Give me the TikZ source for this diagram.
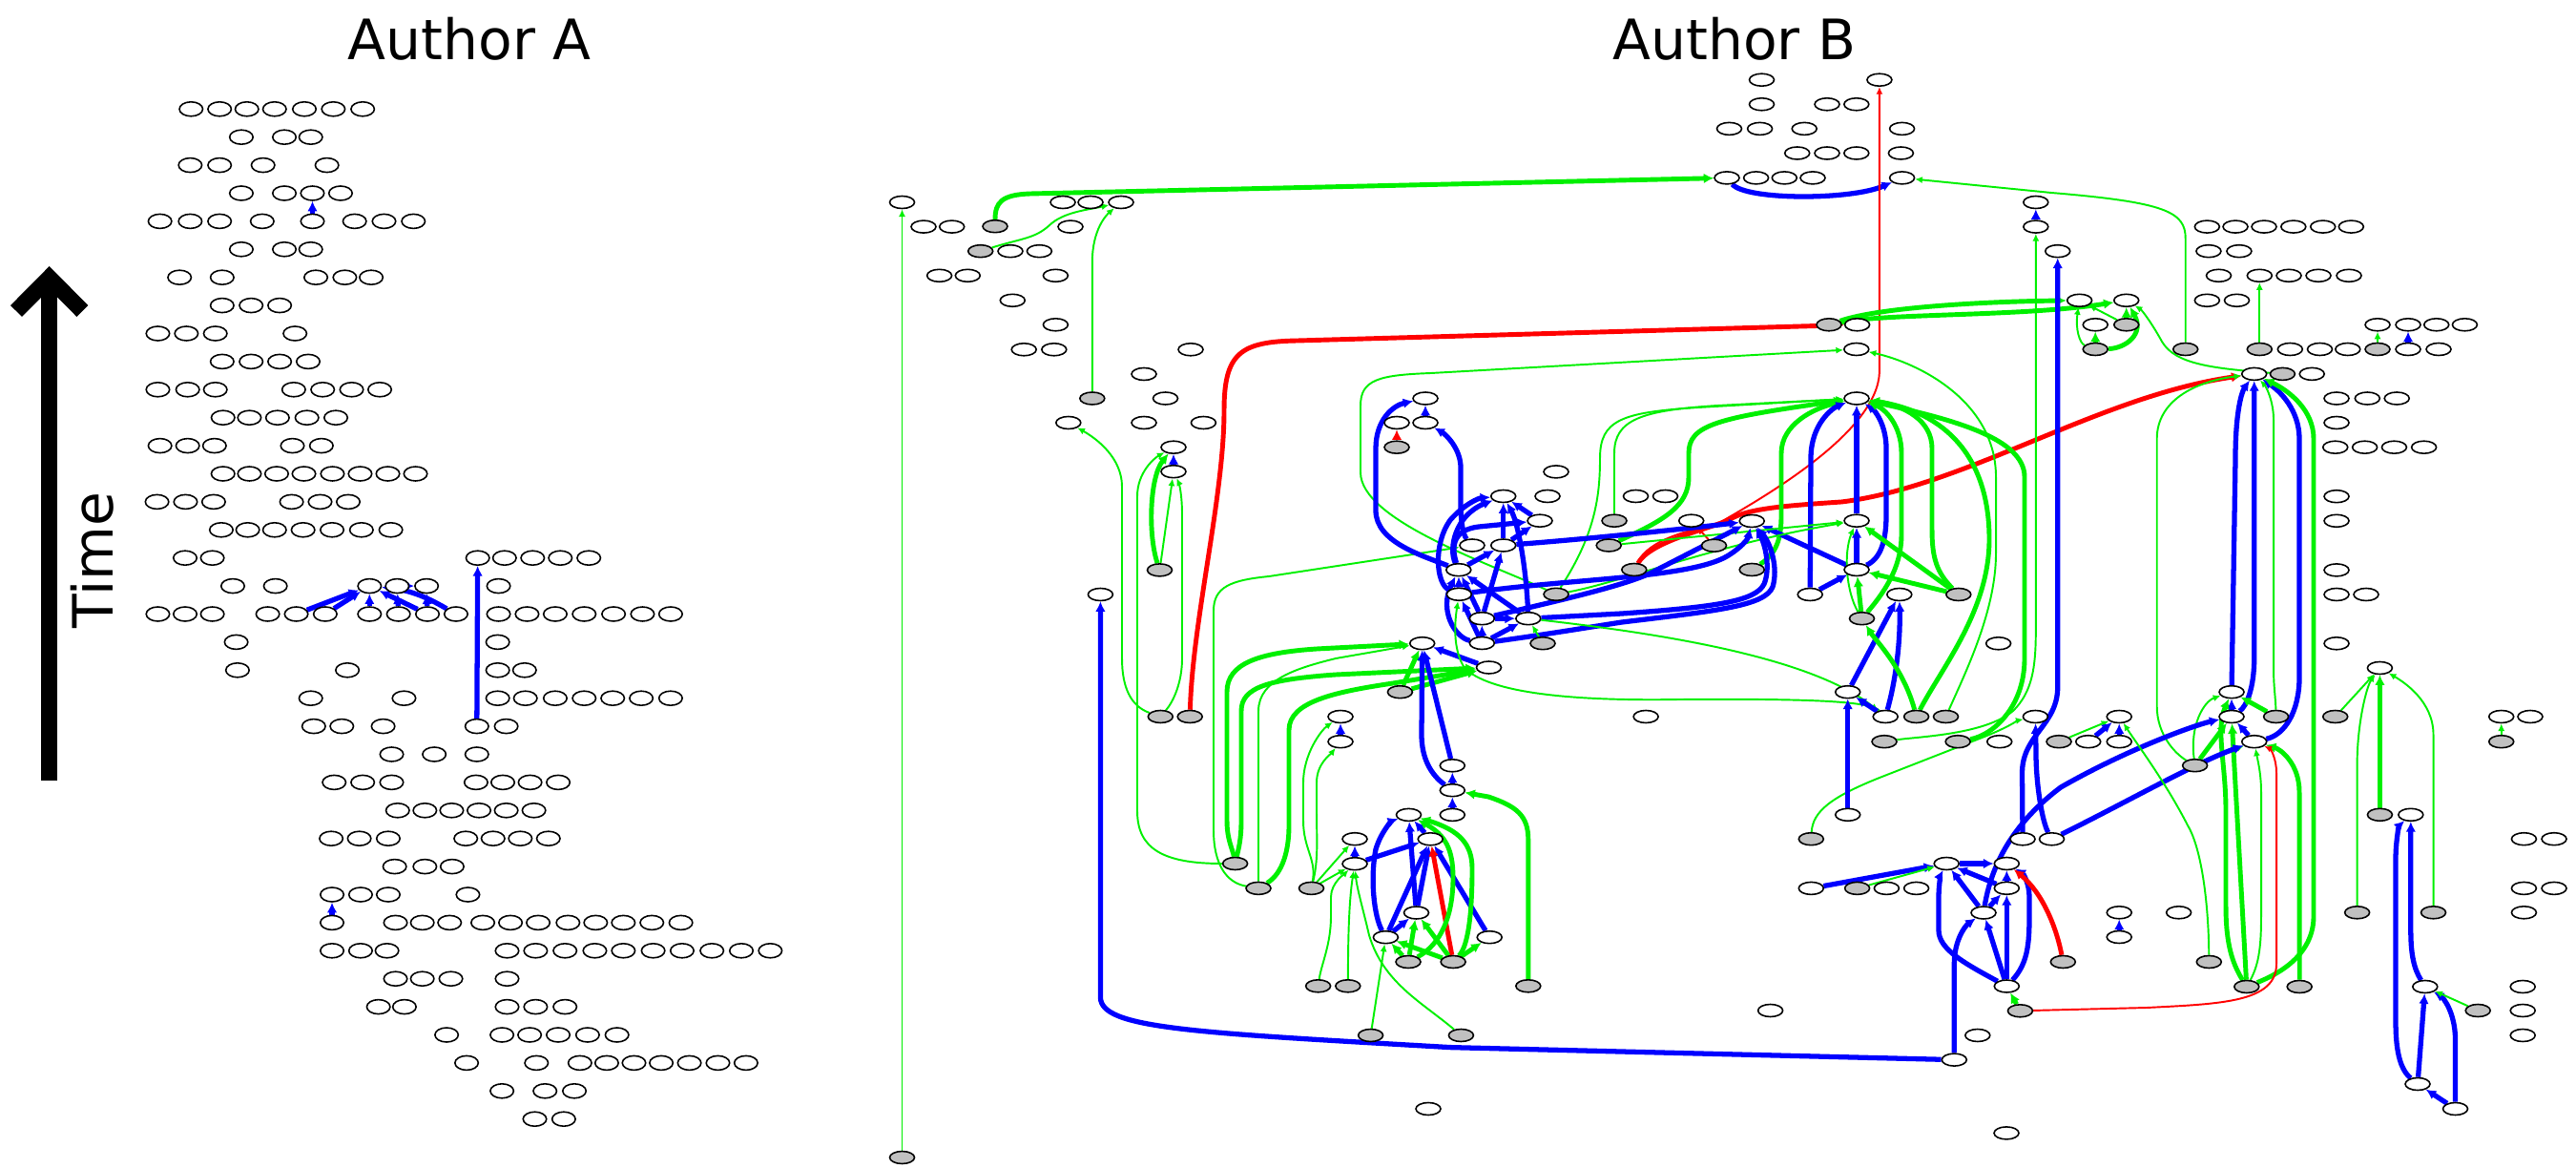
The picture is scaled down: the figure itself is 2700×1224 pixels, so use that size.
\documentclass[tikz,border=0pt]{standalone}
\usepackage{fontspec}
\setmainfont{DejaVu Sans}
\usetikzlibrary{shapes.geometric,arrows.meta}
\definecolor{ngreen}{RGB}{0,240,0}
\definecolor{nblue}{RGB}{0,0,255}
\definecolor{nred}{RGB}{255,0,0}
\definecolor{ngray}{RGB}{192,192,192}
\pgfdeclarelayer{paper}
\pgfdeclarelayer{edges}
\pgfsetlayers{paper,edges,main}
\newcommand\Arowmk[2]{\foreach \cc in {#2}{\node[aw] (a#1-\cc) at ({140+0.4464*\cc},{114.3+29.4*#1}) {};}}
\newcommand\BW[2]{\node[bw] (#1) at (#2) {};}
\newcommand\BG[2]{\node[bg] (#1) at (#2) {};}
\begin{document}
\begin{tikzpicture}[x=0.1mm,y=-0.1mm,
 aw/.style={ellipse,draw=black,line width=0.45pt,fill=white,minimum width=2.45mm,minimum height=1.5mm,inner sep=0pt},
 bw/.style={ellipse,draw=black,line width=0.45pt,fill=white,minimum width=2.6mm,minimum height=1.3mm,inner sep=0pt},
 bg/.style={bw,fill=ngray},
 gt/.style={draw=ngreen,line width=0.55pt,-{Latex[length=2.2pt,width=2pt]}},
 gT/.style={draw=ngreen,line width=1.4pt,-{Latex[length=3pt,width=3pt]}},
 bT/.style={draw=nblue,line width=1.5pt,-{Latex[length=3pt,width=3pt]}},
 ab/.style={draw=nblue,line width=1.5pt,-{Latex[length=3pt,width=3pt]}},
 rt/.style={draw=nred,line width=0.55pt,-{Latex[length=2.2pt,width=2pt]}},
 rT/.style={draw=nred,line width=1.4pt,-{Latex[length=3pt,width=3pt]}},
 ttl/.style={font=\fontsize{16.6}{20}\selectfont,inner sep=0pt}]
\begin{pgfonlayer}{paper}
\fill[white] (0,0) rectangle (2700,1224);
\end{pgfonlayer}
\path[use as bounding box] (0,0) rectangle (2700,1224);

% titles and time arrow
\node[ttl] (tA) at (492,41) {Author A};
\node[ttl] (tB) at (1818,41) {Author B};
\node[ttl,rotate=90] (tT) at (97,587) {Time};
\draw[line width=4.8pt] (51.7,818) -- (51.7,292);
\draw[line width=4.8pt,line join=miter] (17,326) -- (51.7,291) -- (86.4,326);

% ---------------- Author A ----------------
\Arowmk{0}{135,202,266,331,401,469,538}
\Arowmk{1}{253,354,416}
\Arowmk{2}{133,202,304,454}
\Arowmk{3}{253,354,420,486}
\Arowmk{4}{62,133,202,302,420,519,588,657}
\Arowmk{5}{253,354,416}
\Arowmk{6}{108,208,428,496,558}
\Arowmk{7}{208,276,343}
\Arowmk{8}{57,124,192,379}
\Arowmk{9}{208,276,343,410}
\Arowmk{10}{57,127,192,376,444,512,578}
\Arowmk{11}{210,272,338,407,475}
\Arowmk{12}{62,127,190,373,441}
\Arowmk{13}{210,272,336,400,467,532,597,662}
\Arowmk{14}{55,122,188,371,438,504}
\Arowmk{15}{206,268,331,398,466,535,604}
\Arowmk{16}{121,185,808,871,937,1002,1069}
\Arowmk{17}{233,333,554,619,688,857}
\Arowmk{18}{57,121,185,315,382,450,554,622,690,757,857,924,990,1058,1127,1195,1261}
\Arowmk{19}{241,855}
\Arowmk{20}{244,502,855,918}
\Arowmk{21}{416,635,855,920,990,1058,1125,1192,1261}
\Arowmk{22}{423,489,586,806,875}
\Arowmk{23}{606,706,806}
\Arowmk{24}{471,538,606,804,867,931,997}
\Arowmk{25}{620,684,747,811,875,940}
\Arowmk{26}{464,530,598,780,844,908,974}
\Arowmk{27}{613,684,748}
\Arowmk{28}{466,533,598,785}
\Arowmk{29}{466,615,678,742,820,885,950,1020,1085,1150,1217,1285}
\Arowmk{30}{466,533,595,877,944,1013,1083,1150,1220,1288,1358,1427,1495}
\Arowmk{31}{615,678,745,877}
\Arowmk{32}{575,636,877,944,1013}
\Arowmk{33}{735,865,930,997,1066,1135}
\Arowmk{34}{782,946,1048,1111,1175,1239,1305,1372,1438}
\Arowmk{35}{865,966,1035}
\Arowmk{36}{942,1010}

% ---------------- Author B nodes ----------------
\BW{n1}{945.5,212} \BG{n2}{1043,237.2} \BW{n3}{1114,212} \BW{n4}{1143,212} \BW{n5}{1175,212}
\BW{n6}{968,237.6} \BW{n7}{997.7,237.6} \BW{n8}{1122,237.6} \BG{n9}{1027.7,263.2} \BW{n10}{1059,263.2}
\BW{n11}{1089.4,263.2} \BW{n12}{984.6,288.8} \BW{n13}{1014.3,288.8} \BW{n14}{1106.4,288.8} \BW{n15}{1061.3,314.8}
\BW{n16}{1106.4,340.3} \BW{n17}{1073.2,366.3} \BW{n18}{1104.8,366.3} \BW{n19}{1248,366.3} \BW{n20}{1199,392}
\BG{n21}{1144.8,417.5} \BW{n22}{1221.5,417.5} \BW{n23}{1119.8,443} \BW{n24}{1199,443} \BW{n25}{1261.4,443}
\BW{n26}{1230,468.7} \BW{n27}{1230,494.2} \BG{n28}{1215.5,597.4} \BW{n29}{1153.4,623} \BW{n30}{1494,417.5}
\BW{n31}{1464,443} \BW{n32}{1494,443} \BG{n33}{1464,468.7} \BG{n34}{945.5,1213}

\BW{c1}{1846.5,83.7} \BW{c2}{1969.9,83.7} \BW{c3}{1846.5,109.3} \BW{c4}{1915,109.3} \BW{c5}{1945.8,109.3}
\BW{c6}{1812.5,134.9} \BW{c7}{1844.6,134.9} \BW{c8}{1891.2,134.9} \BW{c9}{1993.6,134.9} \BW{c10}{1883.7,160.5}
\BW{c11}{1915,160.5} \BW{c12}{1945.8,160.5} \BW{c13}{1992.4,160.5} \BW{c14}{1810,186.4} \BW{c15}{1840.6,186.4}
\BW{c16}{1870.3,186.4} \BW{c17}{1900,186.4} \BW{c18}{1993.6,186.4} \BG{c19}{1917,340.3} \BW{c20}{1946.6,340.3}
\BW{c21}{1945.8,366} \BW{c22}{1946,417.5} \BW{c23}{1631,494.4} \BW{c24}{1575.7,520} \BW{c25}{1622,520}
\BW{c26}{1714.5,520} \BW{c27}{1745.5,520} \BW{c28}{1614,545.7} \BG{c29}{1692,545.7} \BW{c30}{1772.7,545.7}
\BW{c31}{1836.2,546} \BW{c32}{1946,545.7} \BW{c33}{1543,571.5} \BW{c34}{1575.7,571.5} \BG{c35}{1686.2,571.5}
\BG{c36}{1796.5,571.7} \BW{c37}{1528.8,597.2} \BG{c38}{1712.8,597} \BG{c39}{1836.2,597} \BW{c40}{1946,597}
\BW{c41}{1529.3,622.8} \BG{c42}{1631,622.8} \BW{c43}{1897.2,623} \BW{c44}{1990.8,623} \BG{c45}{2052.8,623}
\BW{c46}{1553.3,648.2} \BW{c47}{1601.8,648.2} \BG{c48}{1951.5,648.2}

\BW{d1}{2133.8,212} \BW{d2}{2133.8,237.6} \BW{d3}{2156.7,263.2} \BW{d4}{2179.6,314.8} \BW{d5}{2228.7,314.8}
\BW{d6}{2196.2,340.3} \BG{d7}{2228.7,340.3} \BG{d8}{2196.2,366} \BG{d9}{2290.7,366}
\BW{d10}{2313.3,237.6} \BW{d11}{2343,237.6} \BW{d12}{2373,237.6} \BW{d13}{2403.8,237.6} \BW{d14}{2434.7,237.6} \BW{d15}{2464.3,237.6}
\BW{d16}{2314.9,263.2} \BW{d17}{2346.9,263.2}
\BW{d18}{2325.5,288.8} \BW{d19}{2368.3,288.8} \BW{d20}{2399,288.8} \BW{d21}{2430,288.8} \BW{d22}{2462,288.8}
\BW{d23}{2313.3,314.8} \BW{d24}{2344.5,314.8}
\BG{d25}{2368.3,366} \BW{d26}{2400.3,366} \BW{d27}{2431.5,366} \BW{d28}{2460.8,366} \BG{d29}{2492,366} \BW{d30}{2524,366} \BW{d31}{2556,366}
\BW{d32}{2492,340.3} \BW{d33}{2524,340.3} \BW{d34}{2553.7,340.3} \BW{d35}{2583.4,340.3}
\BW{d36}{2362.7,391.9} \BG{d37}{2392.4,391.9} \BW{d38}{2423.2,391.9}
\BW{d39}{2449,417.5} \BW{d40}{2481.3,417.5} \BW{d41}{2512.2,417.5} \BW{d42}{2449,443}
\BW{d43}{2447.7,468.7} \BW{d44}{2478.6,468.7} \BW{d45}{2509.4,468.7} \BW{d46}{2540.6,468.7}
\BW{d47}{2449,520.2} \BW{d48}{2449,545.8} \BW{d49}{2449,597.4} \BW{d50}{2449,623} \BW{d51}{2480,623}

\BW{e1}{2094.6,674.3} \BW{e2}{2449,674.3} \BW{e3}{2494.4,700} \BW{e4}{2339,725.2} \BW{e5}{2133.4,751}
\BW{e6}{2221.2,751} \BW{e7}{2339,751} \BG{e8}{2385.6,751} \BG{e9}{2447.7,751} \BW{e10}{2621.7,751} \BW{e11}{2652,751}
\BW{e12}{2095.7,777.2} \BG{e13}{2158,777.2} \BW{e14}{2188.7,777.2} \BW{e15}{2221.2,777.2} \BW{e16}{2362.7,777.2} \BG{e17}{2621.7,777.2}
\BG{e18}{2300.6,802.2} \BG{e19}{2494.4,853.8} \BW{e20}{2526.8,853.8} \BW{e21}{2120,879.3} \BW{e22}{2150.5,879.3}
\BW{e23}{2645.4,879.2} \BW{e24}{2677,879.2} \BW{e25}{2103.3,905} \BW{e26}{2645.4,930.9} \BW{e27}{2677,930.9}
\BW{e28}{2103.3,930.8} \BW{e29}{2079,956.5} \BW{e30}{2221.2,956.3} \BW{e31}{2283.6,956.3} \BG{e32}{2470.6,956.3}
\BG{e33}{2550.5,956.3} \BW{e34}{2645.4,956.3} \BW{e35}{2221.2,982} \BG{e36}{2162.3,1008} \BG{e37}{2315.3,1008}
\BW{e38}{2103.3,1033.5} \BG{e39}{2354.8,1034} \BG{e40}{2410.2,1034} \BW{e41}{2541.8,1034} \BW{e42}{2644.2,1034}
\BG{e43}{2117.4,1059.3} \BG{e44}{2597.2,1059} \BW{e45}{2644.2,1059} \BW{e46}{2072.8,1085} \BW{e47}{2644.2,1085}
\BW{e48}{2048.3,1110.6} \BW{e49}{2534,1136} \BW{e50}{2573.5,1162} \BW{e51}{2103,1187.4}

\BW{f1}{1490.7,674.2} \BW{f2}{1553.3,674} \BG{f3}{1617,674.2} \BW{f4}{1560.5,699.5} \BW{f5}{1936.7,725.2}
\BW{f6}{1725.1,751} \BW{f7}{1976.2,751} \BG{f8}{2008.6,751} \BG{f9}{2039.5,751} \BG{f10}{1975,777.2}
\BG{f11}{2052.1,777.2} \BW{f12}{1522.3,802.3} \BW{f13}{1522.3,828.2} \BW{f14}{1522.3,853.9} \BW{f15}{1476.5,853.9}
\BW{f16}{1936.7,853.8} \BW{f17}{1499.2,879.3} \BG{f18}{1898.3,879.2} \BW{f19}{2040.2,905} \BW{f20}{1898.3,930.9}
\BG{f21}{1946.6,930.9} \BW{f22}{1977.4,930.9} \BW{f23}{2008.6,930.9} \BW{f24}{1484.5,956.5} \BW{f25}{1561.2,982.2}
\BW{f26}{1452.4,982.2} \BG{f27}{1476,1008} \BG{f28}{1523.1,1008} \BG{f29}{1601.8,1033.3} \BW{f30}{1855.6,1059}
\BG{f31}{1531.4,1085} \BW{f32}{1497,1162} \BG{f33}{1436.6,1085}

\BG{g1}{1467.4,725.2} \BG{g2}{1216.3,751} \BG{g3}{1247.2,751} \BW{g4}{1405,751} \BW{g5}{1405,777.2}
\BW{g6}{1420,879.2} \BG{g7}{1294.6,905} \BW{g8}{1420,905.2} \BG{g9}{1319,930.9} \BG{g10}{1374.5,930.9}
\BG{g11}{1381.6,1033.3} \BG{g12}{1412.8,1033.3}

\begin{pgfonlayer}{edges}
% Author A edges
\draw[ab] (a4-420) -- (a3-420);
\draw[ab] (a18-382) -- (a17-554);
\draw[ab] (a18-450) -- (a17-554);
\draw[ab] (a18-554) -- (a17-554);
\draw[ab] (a18-622) -- (a17-619);
\draw[ab] (a18-690) -- (a17-554);
\draw[ab] (a18-757) to[bend right=12] (a17-554);
\draw[ab] (a18-690) -- (a17-688);
\draw[ab] (a17-619) -- (a17-688);
\draw[ab] (a22-806) -- (a16-808);
\draw[ab] (a29-466) -- (a28-466);

% Author B: top
\draw[gT] (n2) .. controls (1043,212) and (1050,204) .. (1080,203) -- (c14);
\draw[gt] (n34) -- (n1);
\draw[gt] (n9) .. controls (1070,250) and (1085,250) .. (1100,236) .. controls (1115,222) and (1140,220) .. (n5);
\draw[gt] (n21) -- (1144.8,275) .. controls (1144.8,240) and (1160,225) .. (n5);
\draw[gt] (g2) .. controls (1185,740) and (1176,720) .. (1176,690) -- (1176,510) .. controls (1176,480) and (1150,460) .. (n23);
\draw[gt] (g2) .. controls (1230,735) and (1239,715) .. (1239,690) -- (1239,540) .. controls (1239,515) and (1235,505) .. (n27);
\draw[gt] (g7) .. controls (1220,905) and (1192,890) .. (1192,850) -- (1192,520) .. controls (1192,495) and (1210,480) .. (n26);
\draw[gT] (n28) .. controls (1203,560) and (1205,500) .. (n26);
\draw[gt] (n28) -- (n27);
\draw[bT] (n27) -- (n26);
\draw[rT] (g3) .. controls (1250,650) and (1283,520) .. (1283,430) .. controls (1283,370) and (1300,358) .. (1360,357) -- (c20);
\draw[gt] (g9) .. controls (1285,925) and (1272,905) .. (1272,870) -- (1272,640) .. controls (1272,615) and (1290,608) .. (1330,604) -- (c33);
\draw[gt] (c42) .. controls (1560,590) and (1426,545) .. (1426,495) -- (1426,425) .. controls (1426,398) and (1445,393) .. (1500,391) -- (c21);
\draw[bT] (c14) .. controls (1830,210) and (1940,210) .. (c18);
\draw[gt] (d9) -- (2290.7,250) .. controls (2290.7,222) and (2270,212) .. (2150,202) -- (c18);
\draw[rt] (c38) .. controls (1728,565) and (1770,556) .. (1800,549) .. controls (1860,515) and (1968,450) .. (1969.9,390) -- (c2);
\draw[rt] (c36) -- (c30);
\draw[rT] (c38) .. controls (1730,568) and (1785,556) .. (1812,545) .. controls (1830,533) and (1870,530) .. (1930,526) .. controls (2060,510) and (2200,415) .. (d36);
\draw[gT] (c19) .. controls (1970,322) and (2080,316) .. (d4);
\draw[gT] (c19) .. controls (1980,328) and (2120,332) .. (d5);
\draw[rT] (n33) -- (n31);

% c22 fan
\draw[gt] (c42) .. controls (1672,560) and (1677,520) .. (1677,480) .. controls (1677,440) and (1700,432) .. (1780,427) -- (c22);
\draw[gt] (c29) -- (1692,475) .. controls (1692,440) and (1720,430) .. (1800,425) -- (c22);
\draw[gT] (c35) .. controls (1745,545) and (1770,530) .. (1770,500) -- (1770,475) .. controls (1770,445) and (1800,438) .. (c22);
\draw[gT] (c39) .. controls (1862,580) and (1867,565) .. (1867,540) -- (1867,475) .. controls (1867,445) and (1900,428) .. (c22);
\draw[bT] (c43) -- (1898,480) .. controls (1898,445) and (1920,428) .. (c22);
\draw[bT] (c32) -- (c22);
\draw[bT] (c40) .. controls (1972,585) and (1977,565) .. (1977,540) -- (1977,470) .. controls (1977,445) and (1965,430) .. (c22);
\draw[bT] (c40) -- (c32);
\draw[bT] (c43) -- (c40);
\draw[bT] (c40) -- (c31);
\draw[gT] (c48) .. controls (1980,615) and (1993,590) .. (1993,560) -- (1993,475) .. controls (1993,445) and (1975,428) .. (c22);
\draw[gT] (c45) .. controls (2030,600) and (2025,585) .. (2025,555) -- (2025,470) .. controls (2025,440) and (1995,425) .. (c22);
\draw[gT] (c48) -- (c40);
\draw[gT] (c45) -- (c40);
\draw[gT] (c45) -- (c32);
\draw[gt] (c35) -- (c32);
\draw[gt] (c42) .. controls (1700,610) and (1800,570) .. (c32);
\draw[gt] (c48) .. controls (1935,620) and (1932,580) .. (c32);
\draw[gT] (f8) .. controls (2035,700) and (2085,640) .. (2085,565) .. controls (2085,480) and (2040,432) .. (c22);
\draw[gt] (f9) .. controls (2060,705) and (2092,640) .. (2092,580) -- (2092,500) .. controls (2092,420) and (2010,380) .. (c21);
\draw[gT] (f11) .. controls (2090,770) and (2122,740) .. (2122,690) -- (2122,500) .. controls (2122,460) and (2050,440) .. (c22);
\draw[gt] (f10) .. controls (2010,772) and (2080,770) .. (2110,745) .. controls (2130,725) and (2133.8,700) .. (2133.8,660) -- (d2);

% top right group
\draw[bT] (d2) -- (d1);
\draw[bT] (e21) -- (2119.5,810) .. controls (2119.5,770) and (2156.7,760) .. (2156.7,720) -- (d3);
\draw[gt] (d8) .. controls (2180,360) and (2175,345) .. (d4);
\draw[gT] (d8) -- (d6);
\draw[gt] (d7) -- (d4);
\draw[gT] (d7) -- (d5);
\draw[gT] (d8) .. controls (2228,365) and (2248,350) .. (d5);
\draw[gt] (d37) .. controls (2320,386) and (2280,382) .. (2266,358) .. controls (2255,338) and (2245,325) .. (d5);
\draw[gt] (d25) -- (d19);
\draw[gt] (d29) -- (d32);
\draw[bT] (d30) -- (d33);

% into d36
\draw[bT] (e4) -- (2343,480) .. controls (2343,430) and (2350,410) .. (d36);
\draw[bT] (e7) .. controls (2355,740) and (2362.7,720) .. (2362.7,690) -- (d36);
\draw[gt] (e8) .. controls (2385,730) and (2383,720) .. (2383,700) -- (2383,440) .. controls (2383,420) and (2375,405) .. (d36);
\draw[bT] (e16) .. controls (2395,770) and (2410,745) .. (2410,710) -- (2410,460) .. controls (2410,430) and (2390,410) .. (d36);
\draw[gT] (e39) .. controls (2390,1020) and (2425,1000) .. (2425,960) -- (2425,460) .. controls (2425,430) and (2400,410) .. (d36);
\draw[gt] (e18) .. controls (2280,790) and (2260.7,770) .. (2260.7,740) -- (2260.7,460) .. controls (2260.7,420) and (2300,400) .. (d36);
\draw[bT] (e7) -- (e4);
\draw[gT] (e8) -- (e4);
\draw[bT] (e16) -- (e7);
\draw[gt] (e18) .. controls (2295,760) and (2310,735) .. (e4);
\draw[gT] (e18) -- (e7);
\draw[gt] (e18) -- (e16);
\draw[gT] (e39) .. controls (2340,1010) and (2333,990) .. (2333,950) -- (2333,850) .. controls (2333,800) and (2322,765) .. (e4);
\draw[gT] (e39) -- (e7);
\draw[gt] (e39) .. controls (2368,1010) and (2370,990) .. (2370,960) -- (2370,830) .. controls (2370,810) and (2366,795) .. (e16);
\draw[gT] (e40) -- (2410,830) .. controls (2410,800) and (2390,785) .. (e16);
\draw[rt] (e43) -- (2250,1056) .. controls (2330,1052) and (2386,1050) .. (2386,1010) -- (2386,810) .. controls (2386,795) and (2380,785) .. (e16);
\draw[bT] (e22) .. controls (2140,860) and (2134,820) .. (2134,790) -- (e5);
\draw[bT] (e22) .. controls (2230,840) and (2300,800) .. (e16);
\draw[bT] (e29) .. controls (2085,920) and (2100,870) .. (2160,825) .. controls (2230,785) and (2300,760) .. (e7);
\draw[gt] (f18) .. controls (1900,850) and (1920,835) .. (1970,815) -- (2080,772) .. controls (2105,762) and (2115,755) .. (e5);
\draw[gt] (e13) -- (e6);
\draw[bT] (e14) -- (e6);
\draw[bT] (e15) -- (e6);
\draw[gt] (e37) .. controls (2315,950) and (2308,890) .. (2293,865) .. controls (2270,820) and (2240,780) .. (e6);
\draw[bT] (e35) -- (e30);

% lower middle cluster
\draw[bT] (f19) -- (e25);
\draw[bT] (f20) -- (f19);
\draw[gt] (f21) -- (f19);
\draw[bT] (e29) -- (f19);
\draw[bT] (e29) -- (e28);
\draw[bT] (e28) -- (f19);
\draw[bT] (e28) -- (e25);
\draw[bT] (e38) -- (e28);
\draw[bT] (e38) .. controls (2060,1010) and (2032,995) .. (2032,975) -- (2032,940) .. controls (2032,925) and (2035,915) .. (f19);
\draw[bT] (e38) -- (e29);
\draw[bT] (e38) .. controls (2125,1010) and (2127,990) .. (2127,960) -- (2127,940) .. controls (2127,925) and (2120,915) .. (e25);
\draw[bT] (e48) -- (2048.3,1010) .. controls (2048.3,985) and (2060,970) .. (e29);
\draw[rT] (e36) .. controls (2155,970) and (2140,935) .. (e25);
\draw[gT] (e43) -- (e38);
\draw[bT] (e48) -- (1520,1097.6) .. controls (1250,1082) and (1153.4,1078) .. (1153.4,1045) -- (n29);

% right side
\draw[gT] (e19) -- (e3);
\draw[gt] (e32) -- (2470.6,800) .. controls (2470.6,760) and (2480,720) .. (e3);
\draw[gt] (e33) -- (2550.5,770) .. controls (2550.5,735) and (2520,715) .. (e3);
\draw[gt] (e9) -- (e3);
\draw[gt] (e17) -- (e10);
\draw[bT] (e49) .. controls (2515,1120) and (2511,1100) .. (2511,1070) -- (2511,900) .. controls (2511,880) and (2515,865) .. (e20);
\draw[bT] (e49) -- (e41);
\draw[bT] (e41) .. controls (2530,1015) and (2526.8,1000) .. (2526.8,975) -- (e20);
\draw[bT] (e50) -- (e49);
\draw[bT] (e50) -- (2573.5,1090) .. controls (2573.5,1060) and (2560,1045) .. (e41);
\draw[gt] (e44) -- (e41);

% lower left cluster
\draw[gT] (g7) .. controls (1292,890) and (1286,880) .. (1286,860) -- (1286,725) .. controls (1286,695) and (1320,684) .. (1380,680) -- (f1);
\draw[gT] (g7) .. controls (1298,890) and (1301,880) .. (1301,860) -- (1301,745) .. controls (1301,720) and (1330,712) .. (1400,707) -- (f4);
\draw[gt] (g9) -- (1319,745) .. controls (1319,712) and (1360,700) .. (1400,690) -- (f1);
\draw[gT] (g9) .. controls (1345,915) and (1351,890) .. (1351,865) -- (1351,765) .. controls (1351,735) and (1400,725) .. (1460,716) -- (f4);
\draw[gT] (g1) -- (f1);
\draw[gT] (g1) -- (f4);
\draw[bT] (f4) -- (f1);
\draw[bT] (g5) -- (g4);
\draw[gt] (g10) .. controls (1380,900) and (1366,890) .. (1366,860) -- (1366,820) .. controls (1366,790) and (1385,765) .. (g4);
\draw[gt] (g10) .. controls (1382,900) and (1380,880) .. (1380,850) -- (1380,820) .. controls (1380,800) and (1395,790) .. (g5);
\draw[gt] (g10) -- (g6);
\draw[gt] (g10) -- (g8);
\draw[bT] (g8) -- (g6);
\draw[bT] (g8) -- (f17);
\draw[gt] (g11) .. controls (1385,1010) and (1395,990) .. (1395,960) -- (1395,940) .. controls (1395,925) and (1410,915) .. (g8);
\draw[gt] (g12) .. controls (1413,1000) and (1413,950) .. (g8);
\draw[gt] (f31) .. controls (1490,1050) and (1450,1030) .. (1435,980) .. controls (1428,950) and (1422,930) .. (g8);
\draw[bT] (f26) .. controls (1440,960) and (1436,920) .. (1442,890) .. controls (1448,870) and (1460,860) .. (f15);
\draw[bT] (f26) -- (f24);
\draw[bT] (f26) -- (f17);
\draw[bT] (f24) -- (f15);
\draw[bT] (f24) -- (f17);
\draw[bT] (f25) -- (f17);
\draw[bT] (f17) -- (f15);
\draw[rT] (f28) -- (f17);
\draw[gT] (f27) -- (f26);
\draw[gT] (f27) -- (f24);
\draw[gT] (f27) .. controls (1510,990) and (1523,960) .. (1523,920) .. controls (1523,890) and (1515,875) .. (f15);
\draw[gT] (f28) -- (f26);
\draw[gT] (f28) -- (f24);
\draw[gT] (f28) -- (f25);
\draw[gT] (f28) .. controls (1540,990) and (1543,950) .. (1543,910) .. controls (1543,885) and (1530,870) .. (f15);
\draw[gt] (f33) -- (f26);
\draw[bT] (f14) -- (f13);
\draw[bT] (f13) -- (f12);
\draw[bT] (f13) .. controls (1500,812) and (1490,795) .. (1490,770) -- (f1);
\draw[bT] (f12) -- (f1);
\draw[gT] (f29) -- (1601.8,880) .. controls (1601.8,855) and (1590,845) .. (1560,835) -- (f13);

% upper left blue cluster
\draw[bT] (c41) .. controls (1505,612) and (1502,570) .. (1520,545) .. controls (1535,528) and (1550,522) .. (c24);
\draw[bT] (c37) .. controls (1518,575) and (1525,540) .. (c24);
\draw[bT] (c34) -- (c24);
\draw[bT] (c28) -- (c24);
\draw[bT] (c37) .. controls (1520,570) and (1525,555) .. (1550,552) -- (c28);
\draw[bT] (c34) -- (c28);
\draw[bT] (c37) -- (c34);
\draw[bT] (c33) .. controls (1533,560) and (1531,545) .. (1531,525) -- (1531,490) .. controls (1531,470) and (1515,455) .. (n32);
\draw[bT] (n32) -- (n30);
\draw[bT] (c37) .. controls (1490,582) and (1442,568) .. (1442,535) -- (1442,470) .. controls (1442,440) and (1460,425) .. (n30);
\draw[bT] (c34) .. controls (1650,566) and (1750,556) .. (c31);
\draw[bT] (c41) .. controls (1650,606) and (1770,606) .. (1810,583) .. controls (1825,574) and (1832,565) .. (c31);
\draw[bT] (c46) .. controls (1640,628) and (1710,612) .. (1735,598) .. controls (1770,580) and (1805,562) .. (c31);
\draw[bT] (c47) -- (1700,643) .. controls (1800,636) and (1840,630) .. (1849,612) .. controls (1856,595) and (1850,570) .. (c31);
\draw[bT] (f2) .. controls (1620,665) and (1680,655) .. (1700,652) .. controls (1800,640) and (1850,635) .. (1858,615) .. controls (1864,595) and (1856,570) .. (c31);
\draw[bT] (c41) -- (c37);
\draw[bT] (c46) -- (c37);
\draw[bT] (c47) -- (c37);
\draw[bT] (f2) .. controls (1525,668) and (1508,640) .. (c37);
\draw[bT] (f2) -- (c41);
\draw[bT] (f2) -- (c46);
\draw[bT] (f2) -- (c47);
\draw[bT] (c46) -- (c47);
\draw[bT] (c46) -- (c34);
\draw[bT] (c47) .. controls (1600,600) and (1592,550) .. (c24);
\draw[gt] (f3) -- (c47);
\draw[gt] (c47) .. controls (1750,665) and (1900,690) .. (f7);
\draw[gt] (f7) .. controls (1960,735) and (1900,732) .. (1760,733) .. controls (1640,735) and (1560,725) .. (1535,700) .. controls (1522,680) and (1525,650) .. (c41);

% right of centre
\draw[bT] (f16) -- (f5);
\draw[bT] (f5) -- (c44);
\draw[bT] (f7) -- (f5);
\draw[bT] (f7) .. controls (1985,720) and (1992,680) .. (c44);
\draw[gT] (f8) .. controls (1995,700) and (1965,670) .. (c48);
\end{pgfonlayer}
\end{tikzpicture}
\end{document}
